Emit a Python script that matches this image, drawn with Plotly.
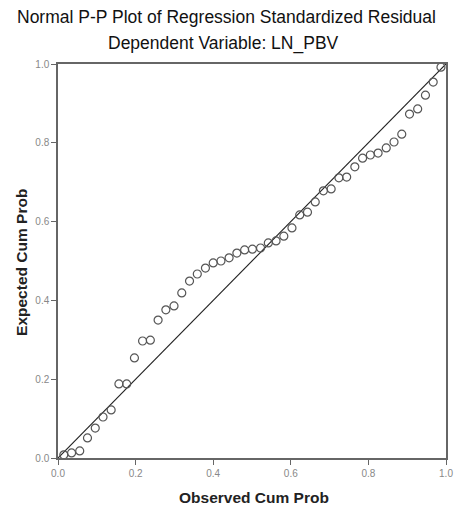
import plotly.graph_objects as go

observed = [0.015, 0.035, 0.056, 0.076, 0.096, 0.116, 0.137, 0.157, 0.177, 0.197,
            0.218, 0.238, 0.258, 0.278, 0.299, 0.319, 0.339, 0.359, 0.380, 0.400,
            0.420, 0.441, 0.461, 0.481, 0.501, 0.522, 0.542, 0.562, 0.582, 0.603,
            0.623, 0.643, 0.663, 0.684, 0.704, 0.724, 0.744, 0.765, 0.785, 0.805,
            0.825, 0.846, 0.866, 0.886, 0.906, 0.927, 0.947, 0.967, 0.987]
expected = [0.008, 0.013, 0.018, 0.051, 0.076, 0.104, 0.122, 0.188, 0.188, 0.254,
            0.297, 0.299, 0.350, 0.376, 0.386, 0.419, 0.449, 0.467, 0.482, 0.495,
            0.500, 0.508, 0.520, 0.528, 0.530, 0.533, 0.546, 0.551, 0.563, 0.584,
            0.617, 0.624, 0.650, 0.678, 0.683, 0.711, 0.713, 0.739, 0.761, 0.769,
            0.774, 0.787, 0.802, 0.822, 0.873, 0.886, 0.921, 0.954, 0.992]
ref_line = [0.0, 1.0]
tick_vals = [0.0, 0.2, 0.4, 0.6, 0.8, 1.0]
tick_text = ["0.0", "0.2", "0.4", "0.6", "0.8", "1.0"]

fig = go.Figure()
fig.add_trace(go.Scatter(x=ref_line, y=ref_line, mode="lines",
                         line=dict(color="#222222", width=1.2), showlegend=False,
                         hoverinfo="skip"))
fig.add_trace(go.Scatter(x=observed, y=expected, mode="markers",
                         marker=dict(symbol="circle-open", size=8,
                                     color="#555555", line=dict(width=1.2)),
                         showlegend=False))

axis_common = dict(range=[0, 1], tickvals=tick_vals, ticktext=tick_text,
                   showgrid=False, zeroline=False, showline=True, mirror=True,
                   linecolor="#666666", linewidth=1.5, ticks="outside",
                   ticklen=5, tickcolor="#666666",
                   tickfont=dict(family="Liberation Sans, Arial", size=10, color="#888888"))

fig.update_layout(
    width=465, height=508,
    margin=dict(l=58, r=12, t=64, b=50),
    paper_bgcolor="white", plot_bgcolor="white",
    xaxis=axis_common, yaxis=axis_common,
    annotations=[
        dict(text="Normal P-P Plot of Regression Standardized Residual",
             xref="paper", yref="paper", x=0.433, y=1.119, showarrow=False,
             xanchor="center", yanchor="middle",
             font=dict(family="Liberation Sans, Arial", size=17.5, color="#111111")),
        dict(text="Dependent Variable: LN_PBV",
             xref="paper", yref="paper", x=0.427, y=1.053, showarrow=False,
             xanchor="center", yanchor="middle",
             font=dict(family="Liberation Sans, Arial", size=17.5, color="#111111")),
        dict(text="<b>Observed Cum Prob</b>",
             xref="paper", yref="paper", x=0.504, y=-0.1015, showarrow=False,
             xanchor="center", yanchor="middle",
             font=dict(family="Liberation Sans, Arial", size=15.5, color="#222222")),
        dict(text="<b>Expected Cum Prob</b>", textangle=-90,
             xref="paper", yref="paper", x=-0.096, y=0.497, showarrow=False,
             xanchor="center", yanchor="middle",
             font=dict(family="Liberation Sans, Arial", size=15.5, color="#222222")),
    ],
)

fig.write_html("out.html", config={"displayModeBar": False},
               post_script="document.body.style.margin='0';document.body.style.overflow='hidden';")
